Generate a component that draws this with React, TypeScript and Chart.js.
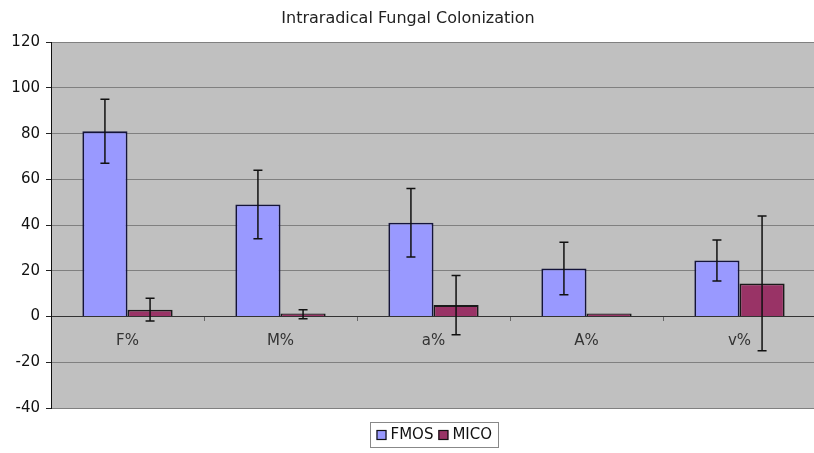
import React, { useEffect, useRef } from "react";
import { Chart, registerables } from "chart.js";

Chart.register(...registerables);

const categories = ["F%", "M%", "a%", "A%", "v%"];
const fmosValues = [81, 49, 41, 21, 24.5];
const fmosErrors = [14, 15, 15, 11.5, 9];
const micoValues = [3, 1, 5, 0.3, 14.5];
const micoErrors = [5, 2, 13, 0, 29.5];
const seriesLabels = ["FMOS", "MICO"];
const yTicks = { min: -40, max: 120, step: 20 };

const FONT = "'DejaVu Sans', 'Liberation Sans', Arial, sans-serif";

const plotBg = {
  id: "plotBg",
  beforeDraw(chart: any) {
    const { ctx, chartArea } = chart;
    ctx.save();
    ctx.fillStyle = "#c0c0c0";
    ctx.fillRect(chartArea.left, chartArea.top, chartArea.right - chartArea.left, chartArea.bottom - chartArea.top);
    ctx.restore();
  },
};

const errorBars = {
  id: "errorBars",
  afterDatasetsDraw(chart: any) {
    const { ctx } = chart;
    const y = chart.scales.y;
    ctx.save();
    ctx.strokeStyle = "#111";
    ctx.lineWidth = 1.5;
    chart.data.datasets.forEach((ds: any, di: number) => {
      const meta = chart.getDatasetMeta(di);
      const errs: number[] = ds.errors || [];
      meta.data.forEach((el: any, i: number) => {
        const e = errs[i];
        if (!e) return;
        const v = ds.data[i];
        const x = el.x;
        const yt = y.getPixelForValue(v + e);
        const yb = y.getPixelForValue(v - e);
        ctx.beginPath();
        ctx.moveTo(x, yt);
        ctx.lineTo(x, yb);
        ctx.moveTo(x - 4.5, yt);
        ctx.lineTo(x + 4.5, yt);
        ctx.moveTo(x - 4.5, yb);
        ctx.lineTo(x + 4.5, yb);
        ctx.stroke();
      });
    });
    ctx.restore();
  },
};

const boxLegend = {
  id: "boxLegend",
  afterDraw(chart: any) {
    const { ctx } = chart;
    const ds = chart.data.datasets;
    ctx.save();
    ctx.font = `15px ${FONT}`;
    ctx.textBaseline = "middle";
    const sw = 10;
    const gap = 4;
    const spacing = 5;
    const padX = 6;
    const widths = ds.map((d: any) => sw + gap + ctx.measureText(d.label).width);
    const total = widths.reduce((a: number, b: number) => a + b, 0) + spacing * (ds.length - 1);
    const cx = 433.5;
    const boxL = Math.round(cx - total / 2 - padX) + 0.5;
    const boxW = Math.round(total + padX * 2);
    const boxT = 422.5;
    const boxH = 25;
    ctx.strokeStyle = "#888";
    ctx.lineWidth = 1;
    ctx.strokeRect(boxL, boxT, boxW, boxH);
    let x = boxL + padX;
    const my = boxT + boxH / 2;
    ds.forEach((d: any, i: number) => {
      ctx.fillStyle = d.backgroundColor;
      ctx.fillRect(x, my - sw / 2, sw, sw);
      ctx.strokeStyle = "#111";
      ctx.lineWidth = 1.2;
      ctx.strokeRect(x + 0.5, my - sw / 2 + 0.5, sw - 1, sw - 1);
      ctx.fillStyle = "#111";
      ctx.fillText(d.label, x + sw + gap, my + 0.5);
      x += widths[i] + spacing;
    });
    ctx.restore();
  },
};

export default function App() {
  const ref = useRef<HTMLCanvasElement | null>(null);
  useEffect(() => {
    if (!ref.current) return;
    const chart = new Chart(ref.current, {
      type: "bar",
      data: {
        labels: categories,
        datasets: [
          {
            label: seriesLabels[0],
            data: fmosValues,
            errors: fmosErrors,
            backgroundColor: "#9999ff",
            borderColor: "#14143a",
            borderWidth: 1.8,
            categoryPercentage: 0.59,
            barPercentage: 1,
          } as any,
          {
            label: seriesLabels[1],
            data: micoValues,
            errors: micoErrors,
            backgroundColor: "#993366",
            borderColor: "#1a1a1a",
            borderWidth: 1.8,
            minBarLength: 3,
            categoryPercentage: 0.59,
            barPercentage: 1,
          } as any,
        ],
      },
      options: {
        animation: false,
        responsive: false,
        devicePixelRatio: 1,
        layout: { padding: { left: 0, right: 0, top: 0, bottom: 45 } },
        plugins: {
          legend: { display: false },
          tooltip: { enabled: false },
          title: {
            display: true,
            text: "Intraradical Fungal Colonization",
            color: "#222",
            font: { family: FONT, size: 16, weight: "normal" as any },
            padding: { top: 9, bottom: 14 },
          },
        },
        scales: {
          x: {
            position: { y: 0 } as any,
            grid: { display: true, drawOnChartArea: false, drawTicks: true, tickLength: 4, color: "#666", offset: true },
            border: { display: true, color: "#333", width: 1 },
            ticks: { color: "#333", padding: 12, font: { family: FONT, size: 15 } },
          },
          y: {
            min: yTicks.min,
            max: yTicks.max,
            ticks: { stepSize: yTicks.step, color: "#111", padding: 6, font: { family: FONT, size: 15 } },
            grid: { color: "#808080", lineWidth: 1, tickLength: 5, tickColor: "#222" },
            border: { display: true, color: "#111", width: 1 },
            afterFit: (s: any) => {
              s.width = 51;
            },
          },
        },
      } as any,
      plugins: [plotBg, errorBars, boxLegend],
    });
    return () => chart.destroy();
  }, []);
  return (
    <div style={{ position: "fixed", left: 0, top: 0, width: 814, height: 453, overflow: "hidden", background: "#fff" }}>
      <canvas ref={ref} width={816} height={453} style={{ display: "block" }} />
    </div>
  );
}
